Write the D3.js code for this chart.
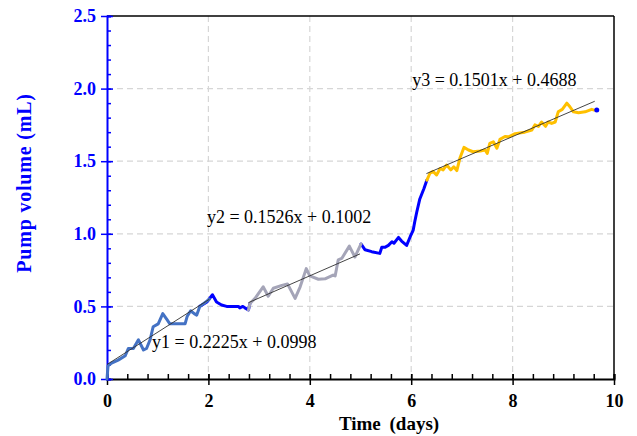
<!doctype html>
<html>
<head>
<script src="https://cdn.jsdelivr.net/npm/d3@7"></script>
<style>
  body { margin: 0; background: #fff; }
  text { font-family: "Liberation Serif", "Times New Roman", serif; }
</style>
</head>
<body>
<svg width="637" height="436"></svg>
<script>
// measured series (time in days, volume in mL)
var seg1 = [[0,0.0],[0.02,0.09],[0.09,0.11],[0.22,0.13],[0.36,0.16],[0.42,0.21],[0.52,0.21],[0.62,0.27],
  [0.72,0.20],[0.78,0.21],[0.85,0.27],[0.91,0.36],[1.01,0.38],[1.10,0.45],[1.18,0.41],[1.24,0.38],
  [1.37,0.38],[1.54,0.38],[1.58,0.43],[1.65,0.47],[1.72,0.45],[1.77,0.44],[1.83,0.50],[1.91,0.52],[2.02,0.55]];
var blueA = [[1.83,0.50],[1.97,0.53],[2.08,0.58],[2.16,0.53],[2.26,0.51],[2.36,0.50],[2.49,0.50],[2.59,0.50],
  [2.62,0.49],[2.68,0.50],[2.72,0.49],[2.79,0.475],[2.82,0.52]];
var seg2 = [[2.79,0.475],[2.82,0.52],[2.92,0.555],[3.08,0.635],[3.18,0.57],[3.28,0.625],[3.45,0.645],[3.56,0.655],
  [3.71,0.555],[3.81,0.635],[3.93,0.76],[4.00,0.71],[4.17,0.687],[4.30,0.69],[4.46,0.716],[4.50,0.71],
  [4.56,0.82],[4.63,0.83],[4.78,0.915],[4.89,0.84],[5.01,0.93]];
var blueB = [[5.01,0.93],[5.09,0.89],[5.22,0.877],[5.38,0.865],[5.42,0.907],[5.48,0.907],[5.55,0.92],[5.62,0.945],
  [5.66,0.935],[5.75,0.975],[5.81,0.95],[5.91,0.92],[5.98,0.98],[6.04,1.026],[6.07,1.083],[6.11,1.15],
  [6.17,1.24],[6.25,1.31],[6.31,1.37]];
var seg3 = [[6.31,1.37],[6.37,1.417],[6.43,1.43],[6.50,1.405],[6.57,1.45],[6.63,1.44],[6.70,1.474],[6.78,1.44],
  [6.84,1.462],[6.90,1.435],[6.96,1.52],[7.04,1.595],[7.13,1.577],[7.22,1.565],[7.36,1.57],[7.46,1.577],
  [7.50,1.554],[7.55,1.623],[7.62,1.634],[7.69,1.589],[7.75,1.65],[7.85,1.67],[7.92,1.668],[8.05,1.69],
  [8.24,1.70],[8.38,1.715],[8.44,1.75],[8.51,1.74],[8.57,1.77],[8.65,1.74],[8.70,1.77],[8.77,1.76],
  [8.84,1.77],[8.90,1.84],[8.98,1.857],[9.07,1.90],[9.13,1.875],[9.20,1.84],[9.30,1.834],[9.43,1.84],
  [9.56,1.857],[9.61,1.852]];
var lastPoint = [[9.66,1.852]];

// linear fits: [slope, intercept, xStart, xEnd, label]
var fits = [
  [0.2225, 0.0998, 0.0, 2.02, "y1 = 0.2225x + 0.0998"],
  [0.1526, 0.1002, 2.79, 4.99, "y2 = 0.1526x + 0.1002"],
  [0.1501, 0.4688, 6.30, 9.62, "y3 = 0.1501x + 0.4688"]
];
var labelPos = [[0.89, 0.214], [1.97, 1.074], [6.02, 2.02]];

var xTicks = [0, 2, 4, 6, 8, 10];
var yTicks = [0, 0.5, 1.0, 1.5, 2.0, 2.5];

var svg = d3.select("svg"),
    pLeft = 107, pRight = 614, pTop = 16, pBottom = 379;

var x = d3.scaleLinear().domain([0, 10]).range([pLeft, pRight]);
var y = d3.scaleLinear().domain([0, 2.5]).range([pBottom, pTop]);

// grid
svg.append("g").selectAll("line").data([2, 4, 6, 8]).enter().append("line")
  .attr("x1", d => x(d)).attr("x2", d => x(d)).attr("y1", pTop).attr("y2", pBottom)
  .style("stroke", "#d6d6d6").style("stroke-width", 1.2).style("stroke-dasharray", "6,4");
svg.append("g").selectAll("line").data([0.5, 1.0, 1.5, 2.0]).enter().append("line")
  .attr("y1", d => y(d)).attr("y2", d => y(d)).attr("x1", pLeft).attr("x2", pRight)
  .style("stroke", "#d6d6d6").style("stroke-width", 1.2).style("stroke-dasharray", "6,4");

// frame top/right
svg.append("line").attr("x1", pLeft).attr("x2", pRight).attr("y1", pTop).attr("y2", pTop)
  .style("stroke", "#000").style("stroke-width", 1.5);
svg.append("line").attr("x1", pRight).attr("x2", pRight).attr("y1", pTop).attr("y2", pBottom)
  .style("stroke", "#000").style("stroke-width", 1.5);

// x axis
var gx = svg.append("g").attr("transform", "translate(0," + pBottom + ")");
gx.call(d3.axisBottom(x).tickValues(d3.range(0, 10.01, 0.4)).tickSize(-5).tickFormat(""));
gx.selectAll(".tick line").style("stroke", "#000").style("stroke-width", 1.5);
gx.select(".domain").style("stroke", "#000").style("stroke-width", 2);
var gx2 = svg.append("g").attr("transform", "translate(0," + (pBottom - 5) + ")");
gx2.call(d3.axisBottom(x).tickValues(xTicks).tickSize(11).tickPadding(9).tickFormat(d3.format("d")));
gx2.select(".domain").remove();
gx2.selectAll(".tick line").style("stroke", "#000").style("stroke-width", 1.5);
gx2.selectAll("text").style("font-size", "18px").style("font-weight", "bold")
  .style("font-family", "Liberation Serif").attr("fill", "#000");

// y axis
var gy = svg.append("g").attr("transform", "translate(" + pLeft + ",0)");
gy.call(d3.axisLeft(y).tickValues(d3.range(0, 2.51, 0.1)).tickSize(-4).tickFormat(""));
gy.selectAll(".tick line").style("stroke", "#0000ff").style("stroke-width", 1.5);
gy.select(".domain").style("stroke", "#0000ff").style("stroke-width", 2);
var gy2 = svg.append("g").attr("transform", "translate(" + (pLeft + 6) + ",0)");
gy2.call(d3.axisLeft(y).tickValues(yTicks).tickSize(12).tickPadding(5).tickFormat(d3.format(".1f")));
gy2.select(".domain").remove();
gy2.selectAll(".tick line").style("stroke", "#0000ff").style("stroke-width", 1.5);
gy2.selectAll("text").style("font-size", "18px").style("font-weight", "bold")
  .style("font-family", "Liberation Serif").attr("fill", "#0000ff");

// axis titles
svg.append("text").attr("x", 389).attr("y", 430).attr("text-anchor", "middle")
  .style("font-size", "19px").style("font-weight", "bold").style("word-spacing", "4px")
  .text("Time (days)");
svg.append("text").attr("transform", "translate(31,183)rotate(-90)").attr("text-anchor", "middle")
  .style("font-size", "20px").style("font-weight", "bold").style("letter-spacing", "0.8px")
  .attr("fill", "#0000ff")
  .text("Pump volume (mL)");

// data lines
var line = d3.line().x(d => x(d[0])).y(d => y(d[1]));
function drawLine(data, color) {
  svg.append("path").datum(data).attr("d", line)
    .style("fill", "none").style("stroke", color).style("stroke-width", 3)
    .style("stroke-linejoin", "round").style("stroke-linecap", "round");
}
drawLine(blueA, "#0000ff");
drawLine(blueB, "#0000ff");
drawLine(seg1, "#4472c4");
drawLine(seg2, "#a5a5b8");
drawLine(seg3, "#ffc000");

svg.append("g").selectAll("circle").data(lastPoint).enter().append("circle")
  .attr("cx", d => x(d[0])).attr("cy", d => y(d[1])).attr("r", 2.5).style("fill", "#0000ff");

// fit lines
svg.append("g").selectAll("line").data(fits).enter().append("line")
  .attr("x1", d => x(d[2])).attr("y1", d => y(d[0] * d[2] + d[1]))
  .attr("x2", d => x(d[3])).attr("y2", d => y(d[0] * d[3] + d[1]))
  .style("stroke", "#303030").style("stroke-width", 0.9);

svg.append("g").selectAll("text").data(fits).enter().append("text")
  .attr("x", (d, i) => x(labelPos[i][0])).attr("y", (d, i) => y(labelPos[i][1]))
  .style("font-size", "18px").attr("fill", "#000")
  .text(d => d[4]);
</script>
</body>
</html>
